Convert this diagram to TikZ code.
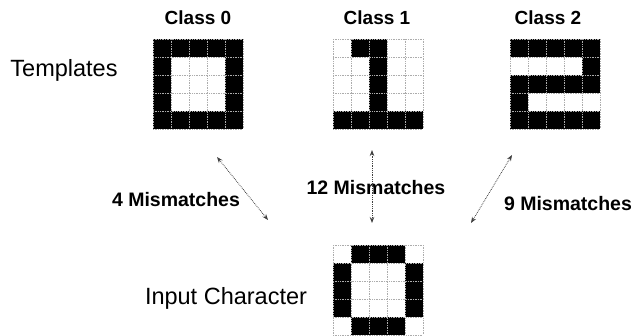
\documentclass[tikz,border=0pt]{standalone}
\usepackage{fontspec}
\setmainfont{Liberation Sans}
\usetikzlibrary{arrows.meta}
\newcommand\pixgrid[3]{%
  \fill[white] (#1,#2) rectangle ++(90,90);
  \foreach \row [count=\r from 0] in {#3} {
    \foreach \v [count=\c from 0] in \row {
      \ifnum\v=1 \fill[black] ({#1+\c*18},{#2+\r*18}) rectangle ++(18,18);\fi
    }
  }
  \foreach \i in {0,...,5} {
    \draw[gridln] ({#1+\i*18},#2) -- ++(0,90);
    \draw[gridln] (#1,{#2+\i*18}) -- ++(90,0);
  }
}
\begin{document}
\begin{tikzpicture}[x=1pt,y=-1pt,
  lbl/.style={font=\fontsize{23.5}{26}\selectfont, inner sep=0},
  cls/.style={font=\bfseries\fontsize{19}{22}\selectfont, inner sep=0},
  mis/.style={font=\bfseries\fontsize{19.5}{22}\selectfont, inner sep=0},
  gridln/.style={gray!65, densely dotted, line width=0.7pt},
  link/.style={black!75, densely dotted, line width=0.8pt,
    {Stealth[length=6pt,width=4.5pt]}-{Stealth[length=6pt,width=4.5pt]}}]
\useasboundingbox (0,0) rectangle (636,335);
% grids
\pixgrid{153}{39}{{1,1,1,1,1},{1,0,0,0,1},{1,0,0,0,1},{1,0,0,0,1},{1,1,1,1,1}}
\pixgrid{333}{39}{{0,1,1,0,0},{0,0,1,0,0},{0,0,1,0,0},{0,0,1,0,0},{1,1,1,1,1}}
\pixgrid{510}{39}{{1,1,1,1,1},{0,0,0,0,1},{1,1,1,1,1},{1,0,0,0,0},{1,1,1,1,1}}
\pixgrid{333}{245}{{0,1,1,1,0},{1,0,0,0,1},{1,0,0,0,1},{1,0,0,0,1},{0,1,1,1,0}}
% grid nodes
\node[anchor=north west, minimum width=90pt, minimum height=90pt, inner sep=0] (c0) at (153,39) {};
\node[anchor=north west, minimum width=90pt, minimum height=90pt, inner sep=0] (c1) at (333,39) {};
\node[anchor=north west, minimum width=90pt, minimum height=90pt, inner sep=0] (c2) at (510,39) {};
\node[anchor=north west, minimum width=90pt, minimum height=90pt, inner sep=0] (in) at (333,245) {};
% labels
\node[cls] (t0) at (198,18) {Class 0};
\node[cls] (t1) at (377,18) {Class 1};
\node[cls] (t2) at (548,18) {Class 2};
\node[lbl] (tpl) at (64,70) {Templates};
\node[lbl] (inp) at (226,298) {Input Character};
\node[mis] (m0) at (176,200) {4 Mismatches};
\node[mis] (m1) at (376,188) {12 Mismatches};
\node[mis] (m2) at (568,204) {9 Mismatches};
% arrows
\coordinate (a0s) at (217,157); \coordinate (a0e) at (268,220);
\coordinate (a1s) at (372,150); \coordinate (a1e) at (372,223);
\coordinate (a2s) at (512,155); \coordinate (a2e) at (471,223);
\draw[link] (a0s) -- (a0e);
\draw[link] (a1s) -- (a1e);
\draw[link] (a2s) -- (a2e);
\end{tikzpicture}
\end{document}
